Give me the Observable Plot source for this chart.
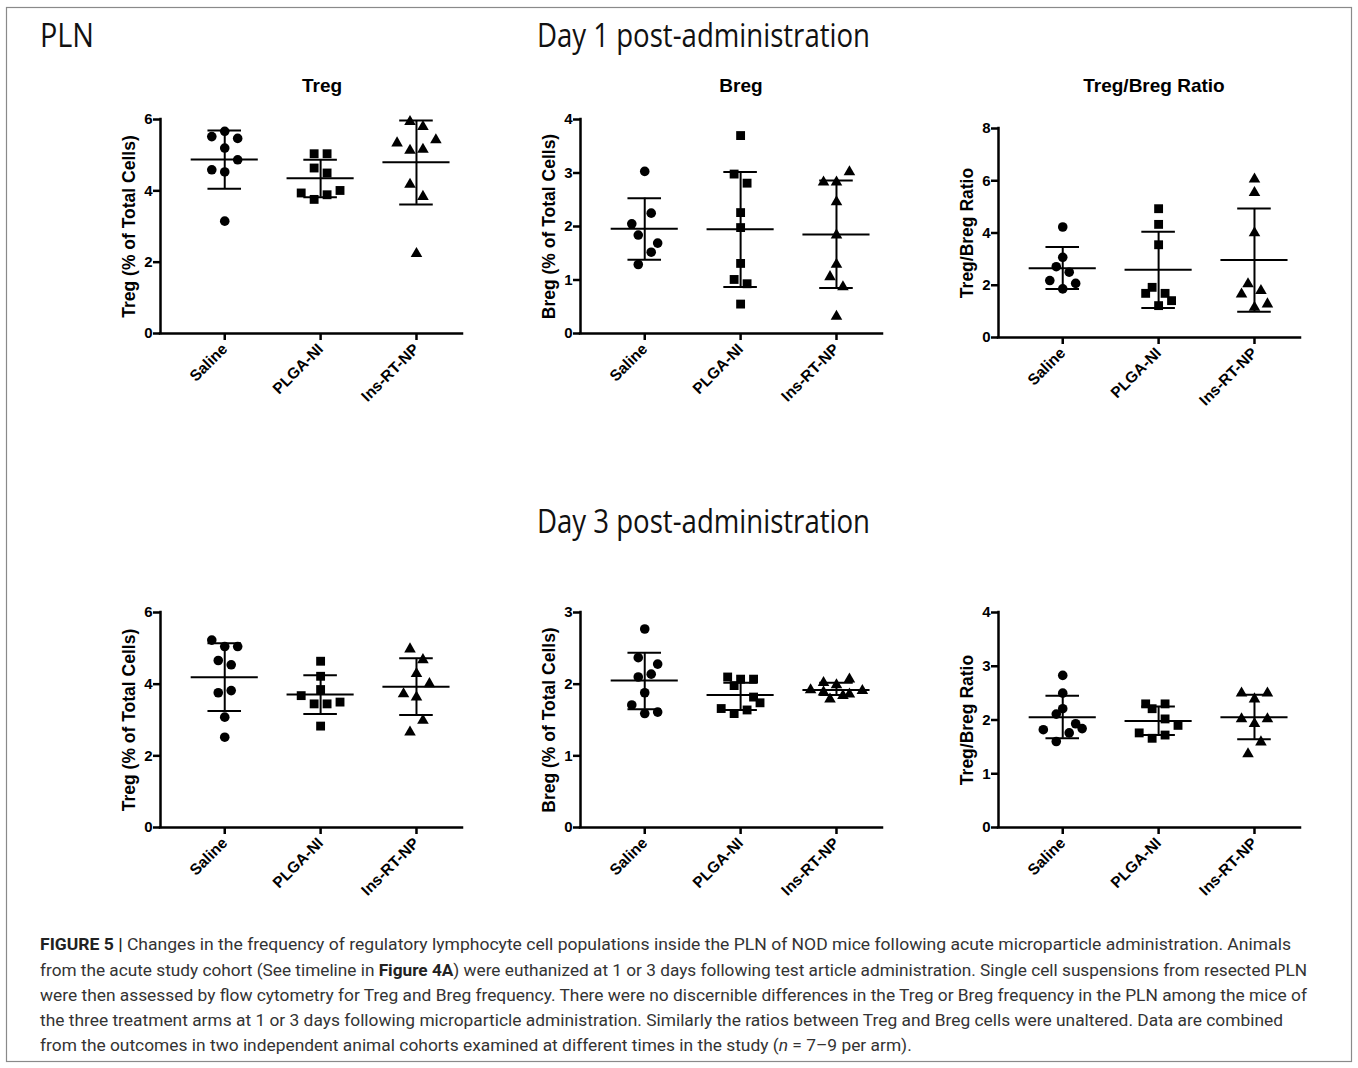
<!DOCTYPE html>
<html>
<head>
<meta charset="utf-8">
<script src="https://cdn.jsdelivr.net/npm/d3@7"></script>
<script src="https://cdn.jsdelivr.net/npm/@observablehq/plot@0.6"></script>
<style>
  html, body { margin: 0; padding: 0; background: white; }
  #root { position: relative; width: 1358px; height: 1068px; overflow: hidden; background: white; }
  #root > svg.overlay { position: absolute; left: 0; top: 0; }
  .panel { position: absolute; }
</style>
</head>
<body>
<div id="root"></div>
<script>
// ---------------- DATA ----------------
const categories = ["Saline", "PLGA-NI", "Ins-RT-NP"];

// Day 1 – Treg (% of total cells)
const day1TregValues = [
  [5.67, 5.52, 5.47, 5.20, 4.87, 4.59, 4.53, 3.15],
  [5.04, 5.04, 4.64, 4.50, 4.01, 3.94, 3.89, 3.76],
  [5.94, 5.80, 5.43, 5.34, 5.13, 5.16, 4.18, 3.84, 2.24]
];
const day1TregSlots = [
  [0, -1, 1, 0, 1, -1, 0, 0],
  [-0.5, 0.5, -0.5, 0.5, 1.5, -1.5, 0.5, -0.5],
  [-0.5, 0.5, 1.5, -1.5, -0.5, 0.5, -0.5, 0.5, 0]
];
const day1TregMean = [4.88, 4.35, 4.80];
const day1TregHi = [5.69, 4.87, 5.97];
const day1TregLo = [4.06, 3.82, 3.62];

// Day 1 – Breg (% of total cells)
const day1BregValues = [
  [3.03, 2.25, 2.05, 1.84, 1.69, 1.52, 1.29],
  [3.70, 2.98, 2.81, 2.26, 1.98, 1.31, 1.01, 0.93, 0.55],
  [3.02, 2.83, 2.83, 2.46, 1.84, 1.29, 1.06, 0.87, 0.32]
];
const day1BregSlots = [
  [0, 0.5, -1, -0.5, 1, 0.5, -0.5],
  [0, -0.5, 0.5, 0, 0, 0, -0.5, 0.5, 0],
  [1, -1, 0, 0, 0, 0, -0.5, 0.5, 0]
];
const day1BregMean = [1.96, 1.95, 1.85];
const day1BregHi = [2.53, 3.02, 2.86];
const day1BregLo = [1.38, 0.87, 0.85];

// Day 1 – Treg/Breg ratio
const day1RatioValues = [
  [4.23, 3.07, 2.71, 2.50, 2.18, 2.07, 1.86],
  [4.93, 4.33, 3.55, 1.92, 1.69, 1.69, 1.41, 1.22],
  [6.06, 5.54, 4.00, 2.05, 1.66, 1.79, 1.28, 1.15]
];
const day1RatioSlots = [
  [0, 0, -0.5, 0.5, -1, 1, 0],
  [0, 0, 0, -0.5, -1, 0.5, 1, 0],
  [0, 0, 0, -0.5, -1, 0.5, 1, 0]
];
const day1RatioMean = [2.65, 2.59, 2.97];
const day1RatioHi = [3.46, 4.05, 4.94];
const day1RatioLo = [1.86, 1.13, 0.99];

// Day 3 – Treg
const day3TregValues = [
  [5.23, 5.05, 5.05, 4.66, 4.54, 3.82, 3.76, 3.08, 2.52],
  [4.64, 4.22, 3.85, 3.68, 3.45, 3.45, 3.50, 2.83],
  [4.98, 4.68, 4.29, 4.01, 3.73, 3.64, 2.99, 2.66]
];
const day3TregSlots = [
  [-1, 0, 1, -0.5, 0.5, 0.5, -0.5, 0, 0],
  [0, 0, 0, -1.5, -0.5, 0.5, 1.5, 0],
  [-0.5, 0.5, 0, 1, -1, 0, 0.5, -0.5]
];
const day3TregMean = [4.19, 3.71, 3.93];
const day3TregHi = [5.14, 4.25, 4.72];
const day3TregLo = [3.25, 3.17, 3.14];

// Day 3 – Breg
const day3BregValues = [
  [2.77, 2.37, 2.28, 2.14, 2.10, 1.88, 1.71, 1.61, 1.59],
  [2.10, 2.07, 2.07, 1.98, 1.82, 1.74, 1.66, 1.64, 1.59],
  [2.07, 2.02, 1.99, 1.92, 1.91, 1.89, 1.86, 1.84, 1.79]
];
const day3BregSlots = [
  [0, -0.5, 1, 0.5, -0.5, 0, -1, 1, 0],
  [-1, 0, 1, -0.5, 1, 1.5, -1.5, 0.5, -0.5],
  [1, -1, 0, -2, 2, -1, 1, 0.5, -0.5]
];
const day3BregMean = [2.05, 1.85, 1.92];
const day3BregHi = [2.44, 2.02, 2.02];
const day3BregLo = [1.65, 1.64, 1.85];

// Day 3 – Treg/Breg ratio
const day3RatioValues = [
  [2.83, 2.50, 2.21, 2.11, 1.93, 1.84, 1.82, 1.76, 1.60],
  [2.30, 2.21, 2.30, 2.02, 1.90, 1.76, 1.66, 1.72],
  [2.50, 2.50, 2.39, 2.02, 2.02, 1.93, 1.59, 1.37]
];
const day3RatioSlots = [
  [0, 0, 0, -0.5, 1, 1.5, -1.5, 0.5, -0.5],
  [-1, -0.5, 0.5, 0.5, 1.5, -1.5, -0.5, 0.5],
  [-1, 1, 0, -1, 1, 0, 0.5, -0.5]
];
const day3RatioMean = [2.05, 1.98, 2.05];
const day3RatioHi = [2.45, 2.25, 2.47];
const day3RatioLo = [1.66, 1.72, 1.64];

const yLabels = ["Treg (% of Total Cells)", "Breg (% of Total Cells)", "Treg/Breg Ratio"];
const panelTitles = ["Treg", "Breg", "Treg/Breg Ratio"];
const sectionTitles = ["Day 1 post-administration", "Day 3 post-administration"];
const figureLabel = "PLN";
const captionLines = [
  [["b", "FIGURE 5 |"], ["r", " Changes in the frequency of regulatory lymphocyte cell populations inside the PLN of NOD mice following acute microparticle administration. Animals"]],
  [["r", "from the acute study cohort (See timeline in "], ["b", "Figure 4A"], ["r", ") were euthanized at 1 or 3 days following test article administration. Single cell suspensions from resected PLN"]],
  [["r", "were then assessed by flow cytometry for Treg and Breg frequency. There were no discernible differences in the Treg or Breg frequency in the PLN among the mice of"]],
  [["r", "the three treatment arms at 1 or 3 days following microparticle administration. Similarly the ratios between Treg and Breg cells were unaltered. Data are combined"]],
  [["r", "from the outcomes in two independent animal cohorts examined at different times in the study ("], ["i", "n"], ["r", " = 7–9 per arm)."]]
];

// ---------------- LAYOUT ----------------
const FONT = "'Liberation Sans', Arial, Helvetica, sans-serif";
const XDOM = [-0.67, 2.48];
const SLOT = 0.135;      // jitter step in category units
const MEANHALF = 0.35;   // half-width of mean line
const CAPHALF = 0.175;   // half-width of SD caps
const ML = 60, MR = 10, MT = 10, MB = 90, PW = 302;

const panels = [
  {values: day1TregValues, slots: day1TregSlots, mean: day1TregMean, hi: day1TregHi, lo: day1TregLo, ymax: 6, ticks: [0,2,4,6], label: yLabels[0], left: 160, top: 119, bottom: 333},
  {values: day1BregValues, slots: day1BregSlots, mean: day1BregMean, hi: day1BregHi, lo: day1BregLo, ymax: 4, ticks: [0,1,2,3,4], label: yLabels[1], left: 580, top: 119, bottom: 333},
  {values: day1RatioValues, slots: day1RatioSlots, mean: day1RatioMean, hi: day1RatioHi, lo: day1RatioLo, ymax: 8, ticks: [0,2,4,6,8], label: yLabels[2], left: 998, top: 128, bottom: 337},
  {values: day3TregValues, slots: day3TregSlots, mean: day3TregMean, hi: day3TregHi, lo: day3TregLo, ymax: 6, ticks: [0,2,4,6], label: yLabels[0], left: 160, top: 612, bottom: 827},
  {values: day3BregValues, slots: day3BregSlots, mean: day3BregMean, hi: day3BregHi, lo: day3BregLo, ymax: 3, ticks: [0,1,2,3], label: yLabels[1], left: 580, top: 612, bottom: 827},
  {values: day3RatioValues, slots: day3RatioSlots, mean: day3RatioMean, hi: day3RatioHi, lo: day3RatioLo, ymax: 4, ticks: [0,1,2,3,4], label: yLabels[2], left: 998, top: 612, bottom: 827}
];

const symbols = ["circle", "square", "triangle"];
const radii = [4.8, 5.0, 4.3];

function makePanel(p) {
  const pts = p.values.flatMap((arr, i) => arr.map((v, j) => ({cat: i, v, slot: p.slots[i][j]})));
  const stats = categories.map((c, i) => ({i, mean: p.mean[i], hi: p.hi[i], lo: p.lo[i]}));
  const plotH = p.bottom - p.top;
  const chart = Plot.plot({
    width: ML + PW + MR,
    height: MT + plotH + MB,
    marginLeft: ML, marginRight: MR, marginTop: MT, marginBottom: MB,
    style: {fontFamily: FONT, color: "black", background: "transparent", overflow: "visible"},
    x: {domain: XDOM},
    y: {domain: [0, p.ymax]},
    marks: [
      Plot.axisY({ticks: p.ticks, tickFormat: d => String(d), tickSize: 7, tickPadding: 1, strokeWidth: 2.5, fontSize: 15, fontWeight: "bold", label: null}),
      Plot.axisX({ticks: [0, 1, 2], tickFormat: i => categories[i], tickRotate: -45, tickSize: 7, tickPadding: 6, strokeWidth: 2.5, fontSize: 15.5, fontWeight: "bold", label: null}),
      Plot.text([p.label], {frameAnchor: "left", text: d => d, rotate: -90, textAnchor: "middle", lineAnchor: "middle", dx: -31, fontSize: 17.5, fontWeight: "bold", fill: "black"}),
      Plot.ruleY([0], {strokeWidth: 2.5, strokeLinecap: "square"}),
      Plot.ruleX([XDOM[0]], {strokeWidth: 2.5, strokeLinecap: "square"}),
      Plot.ruleX(stats, {x: "i", y1: "lo", y2: "hi", strokeWidth: 2}),
      Plot.ruleY(stats, {y: "hi", x1: d => d.i - CAPHALF, x2: d => d.i + CAPHALF, strokeWidth: 2}),
      Plot.ruleY(stats, {y: "lo", x1: d => d.i - CAPHALF, x2: d => d.i + CAPHALF, strokeWidth: 2}),
      Plot.ruleY(stats, {y: "mean", x1: d => d.i - MEANHALF, x2: d => d.i + MEANHALF, strokeWidth: 2}),
      ...[0, 1, 2].map(k => Plot.dot(pts.filter(d => d.cat === k), {
        x: d => d.cat + d.slot * SLOT, y: "v", symbol: symbols[k], r: radii[k], fill: "black", stroke: "none"
      }))
    ]
  });
  chart.classList.add("panel");
  chart.style.left = (p.left - ML) + "px";
  chart.style.top = (p.top - MT) + "px";
  return chart;
}

const root = document.getElementById("root");
panels.forEach(p => root.appendChild(makePanel(p)));

// ---------------- OVERLAY TEXT ----------------
const NS = "http://www.w3.org/2000/svg";
const ov = document.createElementNS(NS, "svg");
ov.setAttribute("class", "overlay");
ov.setAttribute("width", 1358);
ov.setAttribute("height", 1068);
root.appendChild(ov);

function addText(str, attrs) {
  const t = document.createElementNS(NS, "text");
  for (const k in attrs) t.setAttribute(k, attrs[k]);
  t.textContent = str;
  ov.appendChild(t);
  return t;
}

const border = document.createElementNS(NS, "rect");
border.setAttribute("x", 6.5); border.setAttribute("y", 7.5);
border.setAttribute("width", 1345); border.setAttribute("height", 1054);
border.setAttribute("fill", "none"); border.setAttribute("stroke", "#8a8a8a"); border.setAttribute("stroke-width", 1.2);
ov.appendChild(border);

const titleFont = "'Open Sans', 'Noto Sans', sans-serif";
addText(figureLabel, {x: 40, y: 47, "font-family": titleFont, "font-size": 32, fill: "#111", textLength: 54, lengthAdjust: "spacingAndGlyphs"});
addText(sectionTitles[0], {x: 537, y: 47, "font-family": titleFont, "font-size": 32, fill: "#111", textLength: 333, lengthAdjust: "spacingAndGlyphs"});
addText(sectionTitles[1], {x: 537, y: 533, "font-family": titleFont, "font-size": 32, fill: "#111", textLength: 333, lengthAdjust: "spacingAndGlyphs"});

const titleCenters = [322, 741, 1154];
panelTitles.forEach((t, i) => addText(t, {x: titleCenters[i], y: 92, "text-anchor": "middle", "font-family": FONT, "font-size": 19, "font-weight": "bold", fill: "black"}));

// caption: lines 1–4 fitted to the reference widths; last line uses the average squeeze
const capBaselines = [950, 975.5, 1001, 1026, 1051];
const capWidths = [1251, 1267, 1267, 1243];
const capEls = captionLines.map((parts, li) => {
  const t = document.createElementNS(NS, "text");
  t.setAttribute("x", 40);
  t.setAttribute("y", capBaselines[li]);
  t.setAttribute("font-family", "Roboto, 'Liberation Sans', sans-serif");
  t.setAttribute("font-size", 16.5);
  t.setAttribute("fill", "#333");
  parts.forEach(([style, s]) => {
    const ts = document.createElementNS(NS, "tspan");
    if (style === "b") { ts.setAttribute("font-weight", "bold"); ts.setAttribute("fill", "#222"); }
    if (style === "i") ts.setAttribute("font-style", "italic");
    ts.textContent = s;
    t.appendChild(ts);
  });
  ov.appendChild(t);
  return t;
});
const natural = capEls.map(t => t.getComputedTextLength());
const ratios = capWidths.map((w, i) => w / natural[i]);
const avgRatio = d3.mean(ratios);
capEls.forEach((t, i) => {
  const w = i < capWidths.length ? capWidths[i] : natural[i] * avgRatio;
  t.setAttribute("textLength", w);
  t.setAttribute("lengthAdjust", "spacingAndGlyphs");
});
</script>
</body>
</html>
